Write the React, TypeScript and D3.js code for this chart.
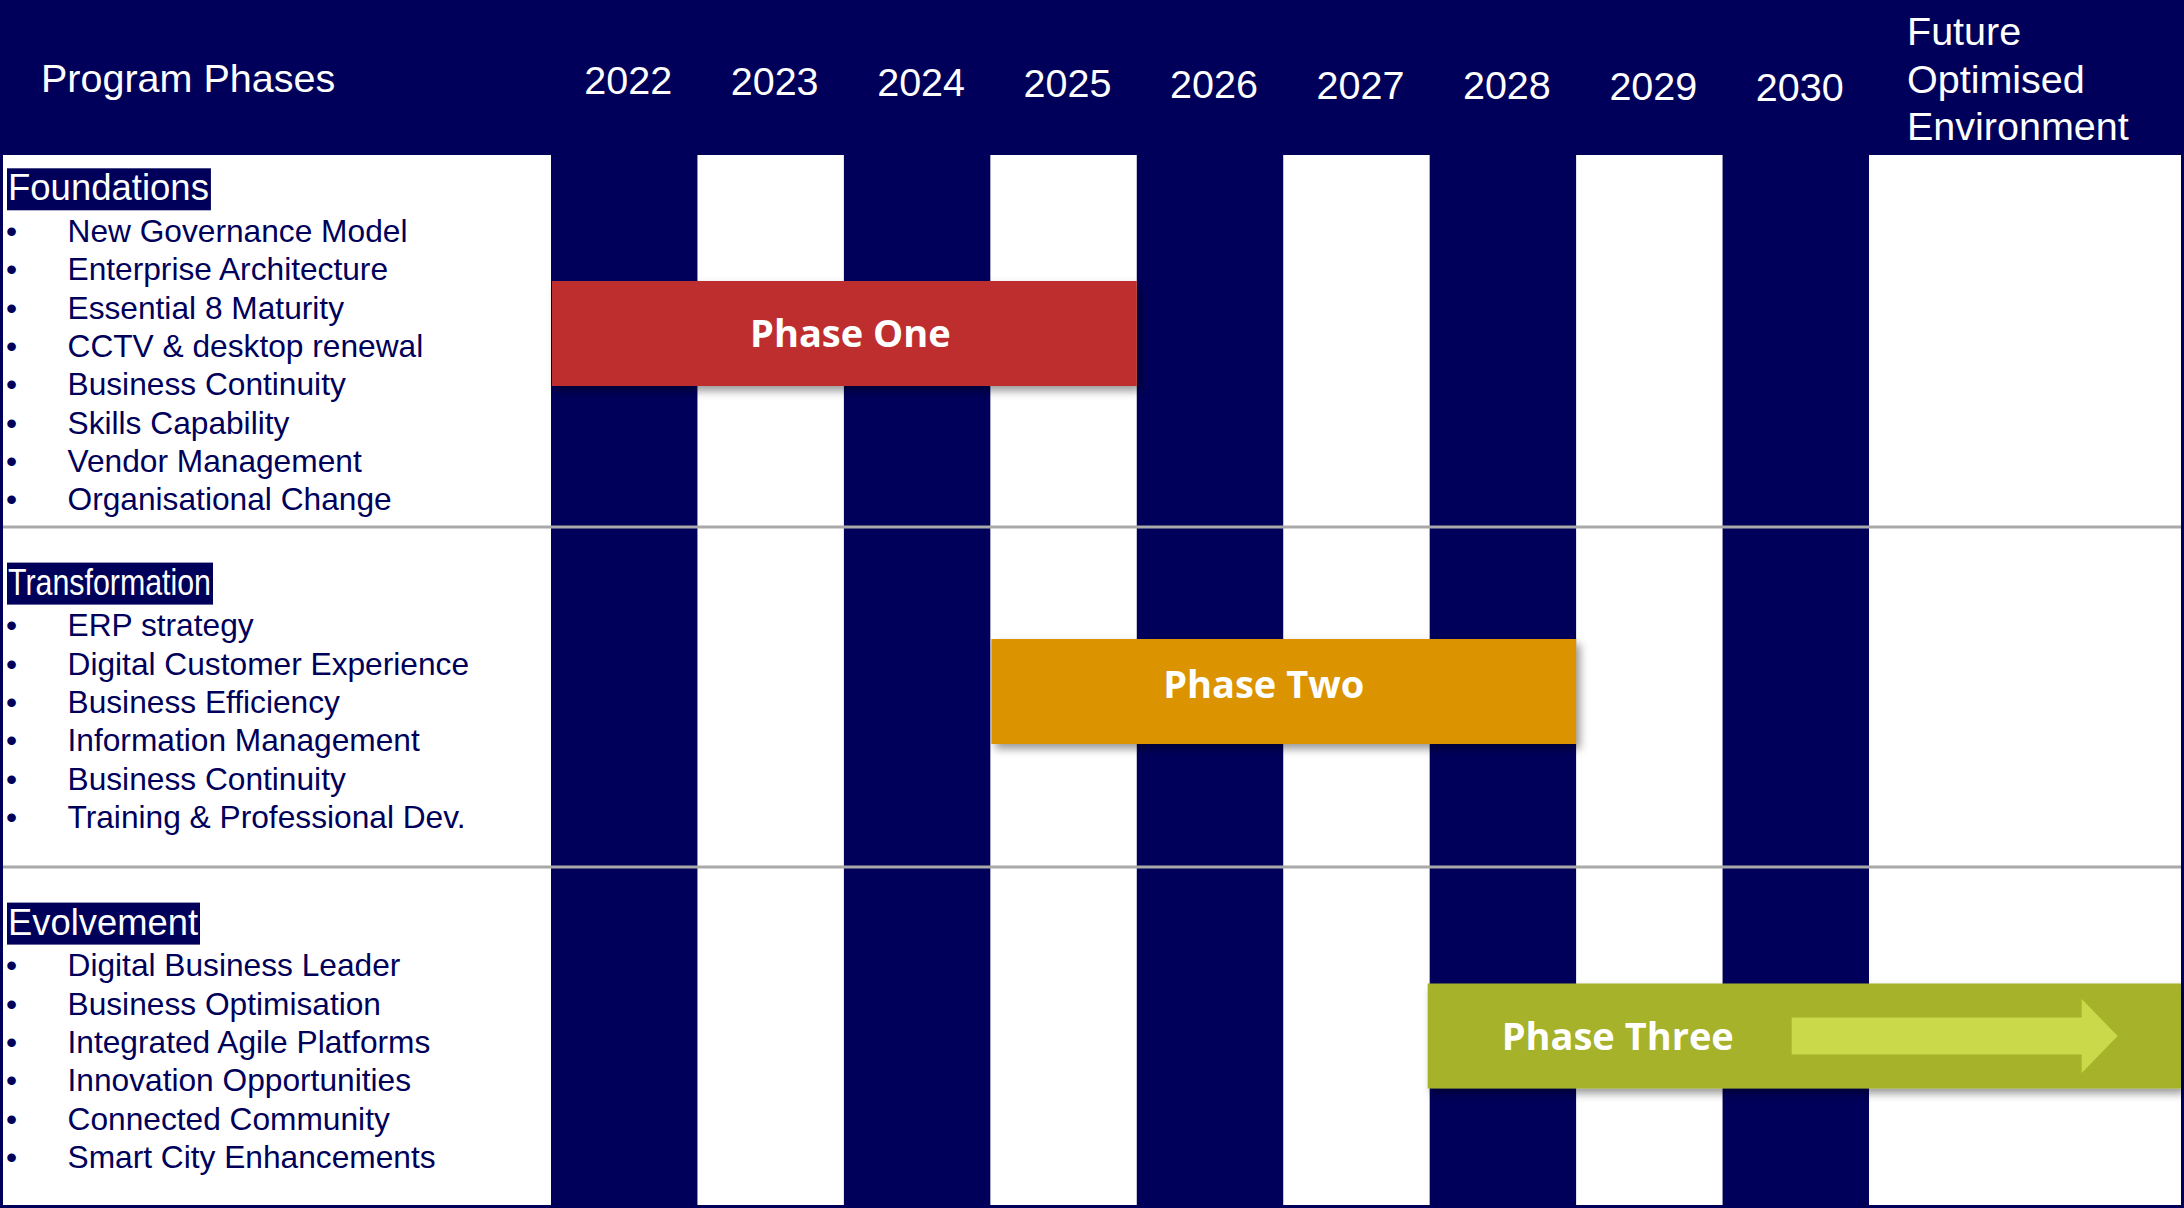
import React, { useEffect, useRef } from "react";
import * as d3 from "d3";

// ---------- data ----------
const years: number[] = [2022, 2023, 2024, 2025, 2026, 2027, 2028, 2029, 2030];
const headerTitle = "Program Phases";
const futureLines: string[] = ["Future", "Optimised", "Environment"];

const categories: string[] = ["Foundations", "Transformation", "Evolvement"];
const foundationsItems: string[] = [
  "New Governance Model",
  "Enterprise Architecture",
  "Essential 8 Maturity",
  "CCTV & desktop renewal",
  "Business Continuity",
  "Skills Capability",
  "Vendor Management",
  "Organisational Change",
];
const transformationItems: string[] = [
  "ERP strategy",
  "Digital Customer Experience",
  "Business Efficiency",
  "Information Management",
  "Business Continuity",
  "Training & Professional Dev.",
];
const evolvementItems: string[] = [
  "Digital Business Leader",
  "Business Optimisation",
  "Integrated Agile Platforms",
  "Innovation Opportunities",
  "Connected Community",
  "Smart City Enhancements",
];

const phaseNames: string[] = ["Phase One", "Phase Two", "Phase Three"];
const phaseStartYear: number[] = [2022, 2025, 2028];
const phaseEndYear: (number | null)[] = [2025, 2028, null]; // null = continues into future
const phaseColors: string[] = ["#BE2E2F", "#DB9400", "#A6B22A"];

// ---------- layout ----------
const W = 2184;
const H = 1208;
const NAVY = "#00005A";
const FONT = "'Liberation Sans', Arial, sans-serif";
const headerBottom = 155;
const rowBreaks = [155, 527, 867, 1207];
const colLeft = 551;
const colRight = 1869;
const categoryTextLength: (number | null)[] = [null, 203, 190];
const phaseLabelDx = [6, -20, 0];
const phaseLabelDy = [0, -7, 0];

export default function App() {
  const ref = useRef<SVGSVGElement | null>(null);

  useEffect(() => {
    const svg = d3.select(ref.current);
    svg.selectAll("*").remove();

    const defs = svg.append("defs");
    const f = defs
      .append("filter")
      .attr("id", "shadow")
      .attr("x", "-5%")
      .attr("y", "-20%")
      .attr("width", "115%")
      .attr("height", "160%");
    f.append("feDropShadow")
      .attr("dx", 4)
      .attr("dy", 5)
      .attr("stdDeviation", 4)
      .attr("flood-color", "#000")
      .attr("flood-opacity", 0.4);

    const x = d3
      .scaleBand<string>()
      .domain(years.map(String))
      .range([colLeft, colRight])
      .paddingInner(0)
      .paddingOuter(0);

    svg.append("rect").attr("x", 0).attr("y", 0).attr("width", W).attr("height", H).attr("fill", "#fff");

    // navy columns
    svg
      .append("g")
      .selectAll("rect")
      .data(years.filter((_, i) => i % 2 === 0))
      .join("rect")
      .attr("x", (d) => x(String(d))!)
      .attr("y", headerBottom - 1)
      .attr("width", x.bandwidth())
      .attr("height", H - headerBottom + 1)
      .attr("fill", NAVY);

    // header band
    svg.append("rect").attr("x", 0).attr("y", 0).attr("width", W).attr("height", headerBottom).attr("fill", NAVY);

    // header texts
    svg
      .append("text")
      .attr("x", 41)
      .attr("y", 92)
      .attr("fill", "#fff")
      .attr("font-family", FONT)
      .attr("font-size", 39.5)
      .text(headerTitle);

    svg
      .append("g")
      .selectAll("text")
      .data(years)
      .join("text")
      .attr("x", (d) => x(String(d))! + x.bandwidth() / 2 + 4)
      .attr("y", (_, i) => 94 + i * 0.9)
      .attr("text-anchor", "middle")
      .attr("fill", "#fff")
      .attr("font-family", FONT)
      .attr("font-size", 39.5)
      .text((d) => String(d));

    svg
      .append("g")
      .selectAll("text")
      .data(futureLines)
      .join("text")
      .attr("x", colRight + 38)
      .attr("y", (_, i) => 45 + i * 47.5)
      .attr("fill", "#fff")
      .attr("font-family", FONT)
      .attr("font-size", 39.5)
      .text((d) => d);

    // row separators
    svg
      .append("g")
      .selectAll("rect")
      .data(rowBreaks.slice(1, -1))
      .join("rect")
      .attr("x", 0)
      .attr("y", (d) => d - 1.5)
      .attr("width", W)
      .attr("height", 3)
      .attr("fill", "#A9A9A9");

    // outer border
    svg
      .append("rect")
      .attr("x", 1.5)
      .attr("y", 1.5)
      .attr("width", W - 3)
      .attr("height", H - 3)
      .attr("fill", "none")
      .attr("stroke", NAVY)
      .attr("stroke-width", 3);

    // left panel: categories + items
    const itemLists = [foundationsItems, transformationItems, evolvementItems];
    const lineH = 38.3;
    const boxH = 42;
    categories.forEach((cat, r) => {
      const items = itemLists[r];
      const rowCenter = (rowBreaks[r] + rowBreaks[r + 1]) / 2;
      const content = boxH + 31.7 + (items.length - 1) * lineH + 7;
      const top = rowCenter - content / 2 + 1.7;
      const g = svg.append("g");
      const rect = g.append("rect").attr("x", 7).attr("y", top).attr("height", boxH).attr("fill", NAVY);
      const t = g
        .append("text")
        .attr("x", 8)
        .attr("y", top + 32)
        .attr("fill", "#fff")
        .attr("font-family", FONT)
        .attr("font-size", 36.5)
        .text(cat);
      const tl = categoryTextLength[r];
      if (tl !== null) {
        t.attr("textLength", tl).attr("lengthAdjust", "spacingAndGlyphs");
      }
      const len = tl !== null ? tl : (t.node() as SVGTextElement).getComputedTextLength();
      rect.attr("width", len + 3);

      const firstBase = top + 73.7;
      g.selectAll("text.item")
        .data(items)
        .join("text")
        .attr("class", "item")
        .attr("x", 67.5)
        .attr("y", (_, i) => firstBase + i * lineH)
        .attr("fill", NAVY)
        .attr("font-family", FONT)
        .attr("font-size", 31.7)
        .text((d) => d);
      g.selectAll("text.bullet")
        .data(items)
        .join("text")
        .attr("class", "bullet")
        .attr("x", 6)
        .attr("y", (_, i) => firstBase + i * lineH)
        .attr("fill", NAVY)
        .attr("font-family", FONT)
        .attr("font-size", 31.7)
        .text("\u2022");
    });

    // phase bars
    const barH = 105;
    const barOffsets = [-7.5, -5.5, -1];
    phaseNames.forEach((name, i) => {
      const rowCenter = (rowBreaks[i] + rowBreaks[i + 1]) / 2;
      const cy = rowCenter + barOffsets[i];
      const x0 = x(String(phaseStartYear[i]))! + 1;
      const end = phaseEndYear[i];
      const x1 = end === null ? W - 3 : x(String(end))! + x.bandwidth();
      const g = svg.append("g");
      g.append("rect")
        .attr("x", x0 - (end === null ? 3 : 0))
        .attr("y", cy - barH / 2)
        .attr("width", x1 - x0 + (end === null ? 3 : 0))
        .attr("height", barH)
        .attr("fill", phaseColors[i])
        .attr("filter", "url(#shadow)");

      if (end === null) {
        const bx = x0 - 3;
        const ax0 = bx + 364;
        const axHead = bx + 654;
        const tip = bx + 690;
        const line = d3.line<[number, number]>();
        g.append("path")
          .attr(
            "d",
            line([
              [ax0, cy - 18.5],
              [axHead, cy - 18.5],
              [axHead, cy - 37],
              [tip, cy],
              [axHead, cy + 37],
              [axHead, cy + 18.5],
              [ax0, cy + 18.5],
            ]) + "Z"
          )
          .attr("fill", "#CAD94A");
        g.append("text")
          .attr("x", bx + 74)
          .attr("y", cy + 13.5)
          .attr("fill", "#fff")
          .attr("font-family", "'Open Sans', sans-serif")
          .attr("font-weight", 700)
          .attr("font-size", 38)
          .text(name);
      } else {
        g.append("text")
          .attr("x", (x0 + x1) / 2 + phaseLabelDx[i])
          .attr("y", cy + 13.5 + phaseLabelDy[i])
          .attr("text-anchor", "middle")
          .attr("fill", "#fff")
          .attr("font-family", "'Open Sans', sans-serif")
          .attr("font-weight", 700)
          .attr("font-size", 38)
          .text(name);
      }
    });
  }, []);

  return (
    <svg
      ref={ref}
      width={W}
      height={H}
      style={{ position: "absolute", left: 0, top: 0, display: "block" }}
    />
  );
}
